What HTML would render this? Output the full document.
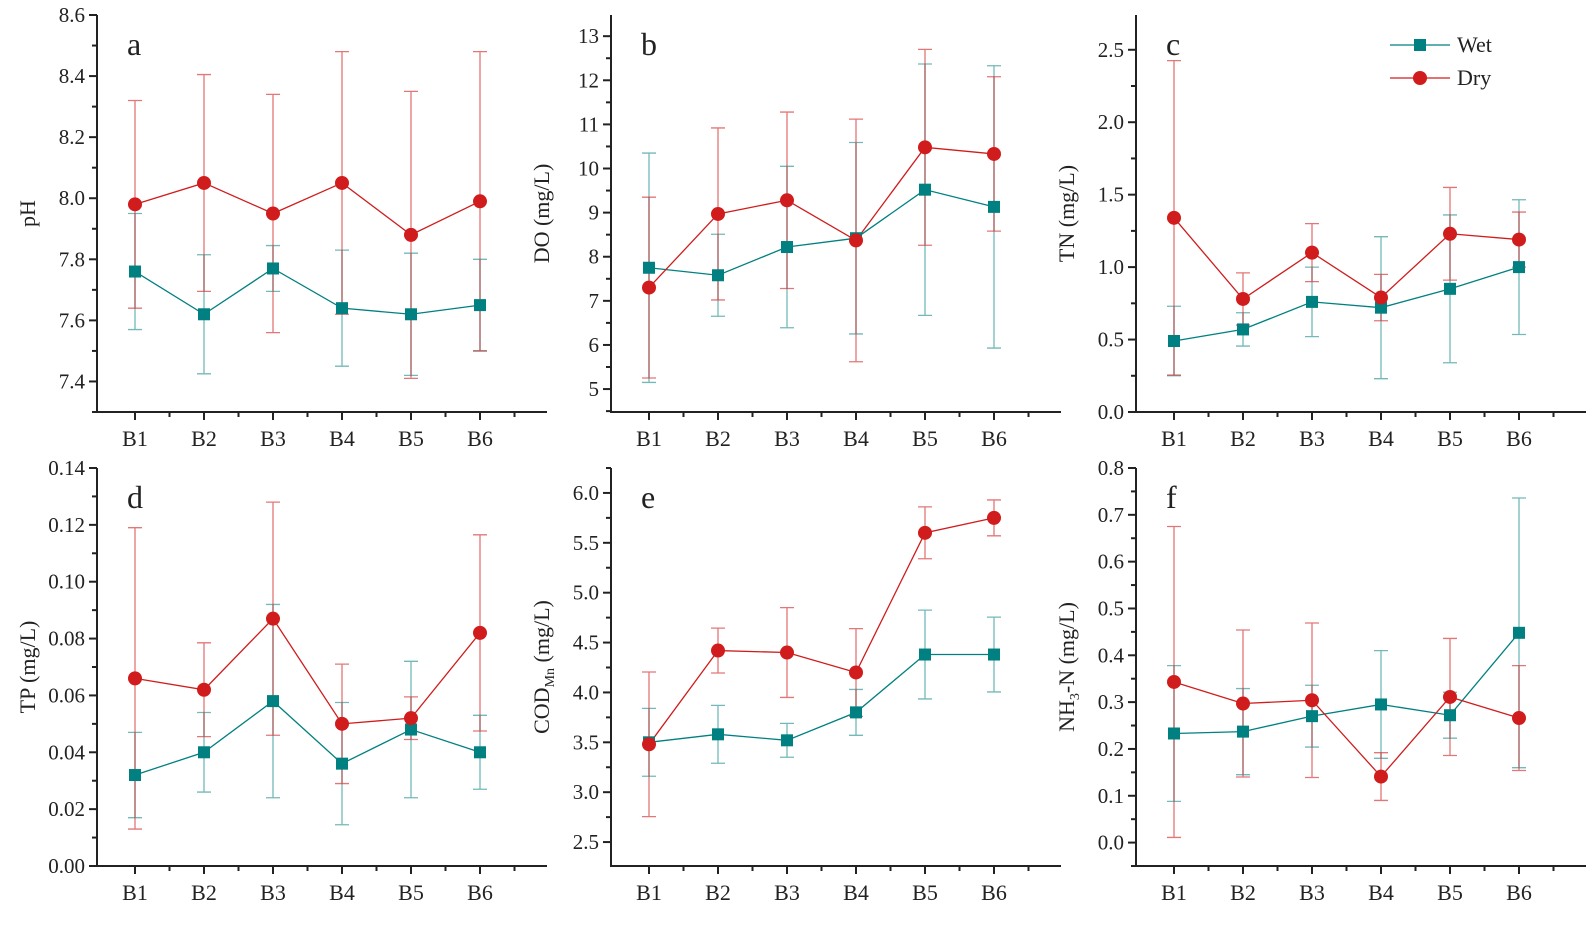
<!DOCTYPE html>
<html><head><meta charset="utf-8"><style>
body{margin:0;background:#fff}
svg{display:block}
svg text{font-family:"Liberation Serif","Times New Roman",serif}
</style></head><body>
<svg id="chart" width="1593" height="926" viewBox="0 0 1593 926" font-family="Liberation Serif, serif"></svg>
<script>
const categories=["B1","B2","B3","B4","B5","B6"];
const phWet=[7.76,7.62,7.77,7.64,7.62,7.65];
const phWetSd=[0.19,0.195,0.075,0.19,0.2,0.15];
const phDry=[7.98,8.05,7.95,8.05,7.88,7.99];
const phDrySd=[0.34,0.355,0.39,0.43,0.47,0.49];
const doWet=[7.75,7.58,8.22,8.42,9.52,9.13];
const doWetSd=[2.6,0.93,1.83,2.17,2.85,3.2];
const doDry=[7.3,8.97,9.28,8.37,10.48,10.33];
const doDrySd=[2.05,1.95,2.0,2.75,2.22,1.75];
const tnWet=[0.49,0.57,0.76,0.72,0.85,1.0];
const tnWetSd=[0.24,0.115,0.24,0.49,0.51,0.465];
const tnDry=[1.34,0.78,1.1,0.79,1.23,1.19];
const tnDrySd=[1.085,0.18,0.2,0.16,0.32,0.19];
const tpWet=[0.032,0.040,0.058,0.036,0.048,0.040];
const tpWetSd=[0.015,0.014,0.034,0.0215,0.024,0.013];
const tpDry=[0.066,0.062,0.087,0.050,0.052,0.082];
const tpDrySd=[0.053,0.0165,0.041,0.021,0.0075,0.0345];
const codWet=[3.5,3.58,3.52,3.8,4.38,4.38];
const codWetSd=[0.34,0.29,0.17,0.23,0.445,0.375];
const codDry=[3.48,4.42,4.4,4.2,5.6,5.75];
const codDrySd=[0.725,0.225,0.45,0.44,0.26,0.18];
const nhWet=[0.233,0.237,0.27,0.295,0.272,0.448];
const nhWetSd=[0.145,0.092,0.066,0.115,0.049,0.288];
const nhDry=[0.343,0.297,0.304,0.141,0.311,0.266];
const nhDrySd=[0.332,0.157,0.165,0.051,0.125,0.112];
const phTicks=["7.4","7.6","7.8","8.0","8.2","8.4","8.6"];
const doTicks=["5","6","7","8","9","10","11","12","13"];
const tnTicks=["0.0","0.5","1.0","1.5","2.0","2.5"];
const tpTicks=["0.00","0.02","0.04","0.06","0.08","0.10","0.12","0.14"];
const codTicks=["2.5","3.0","3.5","4.0","4.5","5.0","5.5","6.0"];
const nhTicks=["0.0","0.1","0.2","0.3","0.4","0.5","0.6","0.7","0.8"];

const NS="http://www.w3.org/2000/svg";
const svg=document.getElementById('chart');
const WET="#008080",WETL="rgba(0,128,128,0.55)",DRY="#d01c1c",DRYL="rgba(208,28,28,0.6)";
const FF="Liberation Serif, Times New Roman, serif";
function mk(tag,at,parent){const e=document.createElementNS(NS,tag);for(const k in at)e.setAttribute(k,at[k]);if(tag==='text')e.setAttribute('font-family',FF);(parent||svg).appendChild(e);return e;}

const panels=[
 {id:"ph",letter:"a",ax:97,top:15,bot:412,ymin:7.3,ymax:8.6,ticks:phTicks,step:0.2,wet:phWet,ws:phWetSd,dry:phDry,ds:phDrySd,title:"pH"},
 {id:"do",letter:"b",ax:611,top:15,bot:412,ymin:4.48,ymax:13.48,ticks:doTicks,step:1,wet:doWet,ws:doWetSd,dry:doDry,ds:doDrySd,title:"DO (mg/L)"},
 {id:"tn",letter:"c",ax:1136,top:15,bot:412,ymin:0,ymax:2.74,ticks:tnTicks,step:0.5,wet:tnWet,ws:tnWetSd,dry:tnDry,ds:tnDrySd,title:"TN (mg/L)",legend:true},
 {id:"tp",letter:"d",ax:97,top:468,bot:866,ymin:0,ymax:0.14,ticks:tpTicks,step:0.02,wet:tpWet,ws:tpWetSd,dry:tpDry,ds:tpDrySd,title:"TP (mg/L)"},
 {id:"cod",letter:"e",ax:611,top:468,bot:866,ymin:2.26,ymax:6.25,ticks:codTicks,step:0.5,wet:codWet,ws:codWetSd,dry:codDry,ds:codDrySd,title:"COD_Mn"},
 {id:"nh",letter:"f",ax:1136,top:468,bot:866,ymin:-0.05,ymax:0.8,ticks:nhTicks,step:0.1,wet:nhWet,ws:nhWetSd,dry:nhDry,ds:nhDrySd,title:"NH3"}
];
const DX=69, OFF=38, WIDTH=450;

panels.forEach(p=>{
 const g=mk('g',{});
 
 
 const xs=i=>p.ax+OFF+i*DX;
 const ys=v=>p.bot-(v-p.ymin)/(p.ymax-p.ymin)*(p.bot-p.top);
 const right=p.ax+WIDTH;
 const ya=mk('line',{x1:p.ax,y1:p.top,x2:p.ax,y2:p.bot+1,stroke:"#222","stroke-width":2},g);
 
 const xa=mk('line',{x1:p.ax-1,y1:p.bot,x2:right,y2:p.bot,stroke:"#222","stroke-width":2},g);
 
 p.ticks.forEach(t=>{
  const v=parseFloat(t),y=ys(v);
  mk('line',{x1:p.ax-8,y1:y,x2:p.ax,y2:y,stroke:"#222","stroke-width":2},g);
  const m=v+p.step/2, ym=ys(m);
  if(m<=p.ymax+1e-9) mk('line',{x1:p.ax-5,y1:ym,x2:p.ax,y2:ym,stroke:"#222","stroke-width":2},g);
  const mb=v-p.step/2;
  if(mb>=p.ymin-1e-9 && t===p.ticks[0]) mk('line',{x1:p.ax-5,y1:ys(mb),x2:p.ax,y2:ys(mb),stroke:"#222","stroke-width":2},g);
  const tx=mk('text',{x:p.ax-12,y:y+7,"text-anchor":"end","font-size":21,fill:"#222"},g);
  tx.textContent=t;
  
 });
 categories.forEach((c,i)=>{
  const x=xs(i);
  mk('line',{x1:x,y1:p.bot,x2:x,y2:p.bot+8,stroke:"#222","stroke-width":2},g);
  mk('line',{x1:x+DX/2,y1:p.bot,x2:x+DX/2,y2:p.bot+5,stroke:"#222","stroke-width":2},g);
  const tx=mk('text',{x:x,y:p.bot+34,"text-anchor":"middle","font-size":22,fill:"#222"},g);
  tx.textContent=c;
  
 });
 const cy=(p.top+p.bot)/2, tx0=p.ax-62;
 const tt=mk('text',{x:tx0,y:cy,"text-anchor":"middle","font-size":22,fill:"#222",transform:`rotate(-90 ${tx0} ${cy})`},g);
 
 if(p.title==="COD_Mn"){tt.innerHTML='COD<tspan font-size="14" dy="5">Mn</tspan><tspan dy="-5"> (mg/L)</tspan>';}
 else if(p.title==="NH3"){tt.innerHTML='NH<tspan font-size="14" dy="5">3</tspan><tspan dy="-5">-N (mg/L)</tspan>';}
 else tt.textContent=p.title;
 const lt=mk('text',{x:p.ax+30,y:p.top+40,"font-size":32,fill:"#222"},g);
 lt.textContent=p.letter;
 
 function err(vals,sds,col,name){
  vals.forEach((v,i)=>{
   const x=xs(i),y1=ys(v-sds[i]),y2=ys(v+sds[i]);
   const e=mk('path',{d:`M${x},${y1}V${y2}M${x-7},${y1}H${x+7}M${x-7},${y2}H${x+7}`,stroke:col,"stroke-width":1.3,fill:"none"},g);
   
  });
 }
 err(p.wet,p.ws,WETL,'wet');
 err(p.dry,p.ds,DRYL,'dry');
 const wl=mk('polyline',{points:p.wet.map((v,i)=>xs(i)+','+ys(v)).join(' '),fill:"none",stroke:WET,"stroke-width":1.3},g);
 
 const dl=mk('polyline',{points:p.dry.map((v,i)=>xs(i)+','+ys(v)).join(' '),fill:"none",stroke:DRY,"stroke-width":1.3},g);
 
 p.wet.forEach((v,i)=>{
  const r=mk('rect',{x:xs(i)-6,y:ys(v)-6,width:12,height:12,fill:WET},g);
  
 });
 p.dry.forEach((v,i)=>{
  const c=mk('circle',{cx:xs(i),cy:ys(v),r:7,fill:DRY},g);
  
 });
 if(p.legend){
  const lg=mk('g',{},g);
  
  mk('line',{x1:1390,y1:45,x2:1450,y2:45,stroke:WET,"stroke-width":1.3},lg);
  mk('rect',{x:1414,y:39,width:12,height:12,fill:WET},lg);
  const a=mk('text',{x:1457,y:52,"font-size":22,fill:"#222"},lg);a.textContent="Wet";
  
  mk('line',{x1:1390,y1:78,x2:1450,y2:78,stroke:DRY,"stroke-width":1.3},lg);
  mk('circle',{cx:1420,cy:78,r:7,fill:DRY},lg);
  const b=mk('text',{x:1457,y:85,"font-size":22,fill:"#222"},lg);b.textContent="Dry";
  
 }
});
</script>
</body></html>
